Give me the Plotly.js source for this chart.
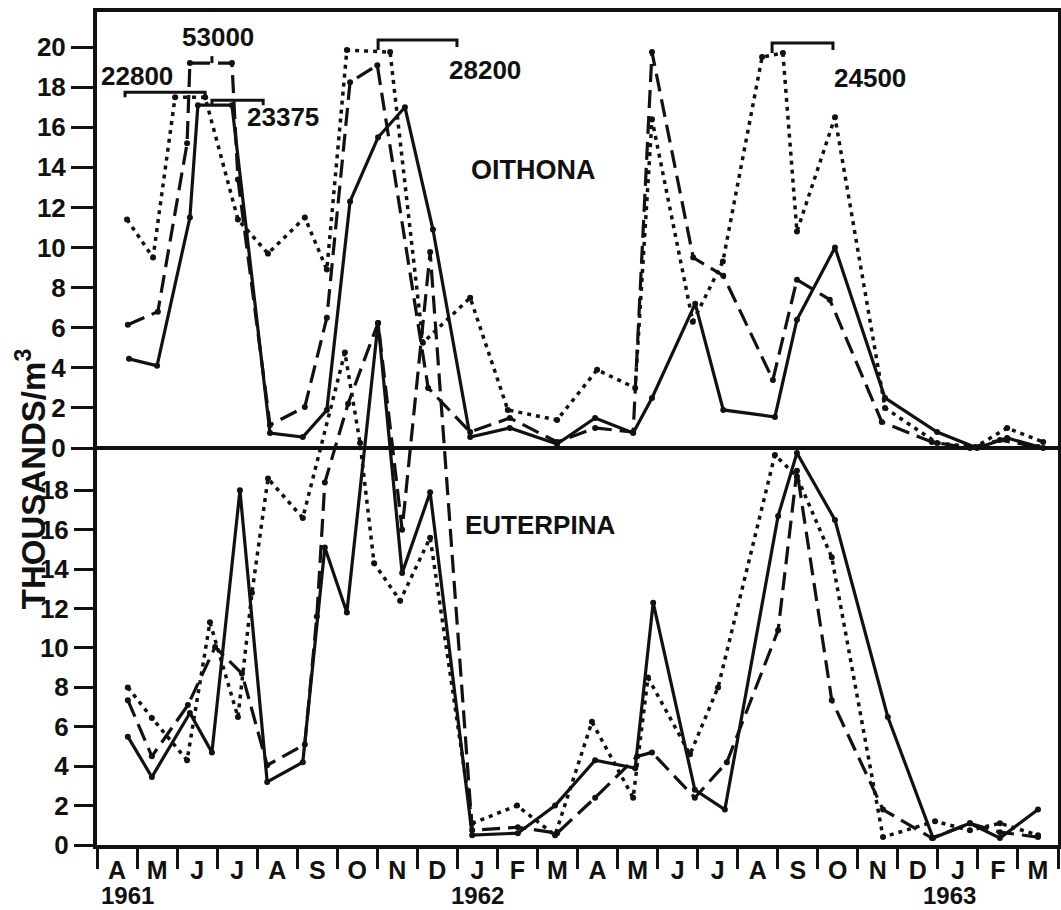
<!DOCTYPE html>
<html>
<head>
<meta charset="utf-8">
<script src="https://cdn.plot.ly/plotly-3.0.1.min.js"></script>
<style>html,body{margin:0;padding:0;background:#fff;}#chart{width:1061px;height:910px;}</style>
</head>
<body>
<div id="chart"></div>
<script>
// x = months elapsed since 1 April 1961
const monthLetters = ['A','M','J','J','A','S','O','N','D','J','F','M','A','M','J','J','A','S','O','N','D','J','F','M'];
const yearLabels = ['1961','1962','1963'];
const yearPositions = [0.75, 9.5, 21.3];

// OITHONA (upper panel), thousands / m3
const oithonaSolidX = [0.80,1.50,2.32,2.52,3.37,4.32,5.14,5.74,6.32,7.02,7.69,8.39,9.32,10.31,11.49,12.44,13.39,13.86,14.94,15.64,16.93,17.48,18.43,19.68,20.98,21.98,22.73,23.63];
const oithonaSolidY = [4.45,4.1,11.5,17.1,17.1,0.75,0.55,1.9,12.3,15.5,17.0,10.9,0.55,1.0,0.2,1.5,0.75,2.5,7.2,1.9,1.55,6.4,10.0,2.5,0.8,0.0,0.5,0.0];
const oithonaDashX = [0.77,1.52,2.25,2.32,3.37,3.52,4.32,5.19,5.74,6.32,7.00,8.27,9.32,10.31,11.49,12.44,13.39,13.86,14.89,15.64,16.88,17.48,18.30,19.60,20.85,21.80,22.55,23.50];
const oithonaDashY = [6.15,6.8,15.2,19.2,19.2,13.4,1.15,2.05,6.5,18.25,19.1,3.0,0.8,1.5,0.3,1.0,0.8,19.75,9.5,8.6,3.4,8.4,7.4,1.3,0.3,0.0,0.4,0.05];
const oithonaDotX = [0.75,1.40,1.95,2.70,3.52,4.27,5.19,5.74,6.24,7.32,8.14,9.32,10.26,11.49,12.49,13.44,13.86,14.88,15.63,16.61,17.13,17.48,18.43,19.68,20.98,21.93,22.73,23.63];
const oithonaDotY = [11.4,9.5,17.5,17.5,11.4,9.7,11.5,8.9,19.85,19.75,5.25,7.5,1.9,1.4,3.9,3.0,16.4,6.3,9.3,19.5,19.7,10.8,16.5,2.0,0.25,0.05,1.0,0.3];

// EUTERPINA (lower panel), thousands / m3
const euterpinaSolidX = [0.77,1.37,2.32,2.87,3.57,4.25,5.14,5.69,6.24,7.02,7.62,8.32,9.37,10.51,11.44,12.44,13.44,13.89,14.93,15.68,17.01,17.48,18.43,19.75,20.88,21.80,22.55,23.50];
const euterpinaSolidY = [5.5,3.45,6.7,4.7,18.0,3.2,4.2,15.1,11.8,26.5,13.8,17.9,0.5,0.6,2.0,4.3,3.9,12.3,2.8,1.8,16.7,19.9,16.5,6.5,0.35,1.1,0.35,1.8];
const euterpinaDashX = [0.77,1.37,2.27,2.95,3.62,4.25,5.19,5.49,5.69,6.27,7.02,7.62,8.32,9.37,10.51,11.49,12.44,13.49,13.86,14.93,15.73,17.01,17.48,18.35,19.63,20.85,21.80,22.55,23.50];
const euterpinaDashY = [7.35,4.5,7.1,10.05,8.7,4.05,5.1,11.6,18.4,22.4,26.5,16.0,30.1,0.75,0.9,0.6,2.4,4.5,4.7,2.4,4.2,10.9,19.0,7.35,1.8,0.35,1.1,0.65,0.4];
const euterpinaDotX = [0.77,1.37,2.25,2.82,3.52,3.87,4.27,5.14,6.19,6.57,6.92,7.57,8.32,9.37,10.49,11.44,12.36,13.39,13.76,14.81,15.51,16.93,17.48,18.35,19.63,20.93,21.80,22.55,23.50];
const euterpinaDotY = [8.0,6.45,4.3,11.3,6.5,12.8,18.6,16.6,25.0,20.4,14.3,12.4,15.6,1.1,2.0,0.5,6.25,2.4,8.5,4.6,8.0,19.8,18.7,14.6,0.4,1.2,0.75,1.1,0.5];

// off-scale peaks (true values) and their bracket connectors (upper-panel units)
const offScaleLabels = ['22800','53000','23375','28200','24500'];
const offScaleLabelX = [1.0, 3.02, 4.65, 9.69, 19.3];
const offScaleLabelY = [18.55, 20.5, 16.5, 18.85, 18.45];
const bracketX = [[0.70,0.70,2.70,2.70],[2.87,2.87],[2.87,2.87,4.15,4.15],[7.02,7.02,8.99,8.99],[16.86,16.86,18.38,18.38]];
const bracketY = [[17.5,17.75,17.75,17.5],[19.2,19.55],[17.1,17.35,17.35,17.1],[19.85,20.35,20.35,20.0],[19.7,20.2,20.2,19.85]];

const FONT = 'Liberation Sans, Arial, sans-serif';
const INK = '#111';

function series(x, y, dash, width, axis) {
  return {x: x, y: y, yaxis: axis, type: 'scatter', mode: 'lines+markers',
    line: {color: INK, width: width, dash: dash},
    marker: {color: INK, size: 6}, hoverinfo: 'skip', showlegend: false};
}

const traces = [
  series(oithonaSolidX, oithonaSolidY, 'solid', 3.2, 'y'),
  series(oithonaDashX, oithonaDashY, '18px,8px', 3.2, 'y'),
  series(oithonaDotX, oithonaDotY, '4px,5px', 3.5, 'y'),
  series(euterpinaSolidX, euterpinaSolidY, 'solid', 3.2, 'y2'),
  series(euterpinaDashX, euterpinaDashY, '18px,8px', 3.2, 'y2'),
  series(euterpinaDotX, euterpinaDotY, '4px,5px', 3.5, 'y2')
];
bracketX.forEach(function (bx, i) {
  traces.push({x: bx, y: bracketY[i], yaxis: 'y', type: 'scatter', mode: 'lines',
    line: {color: INK, width: 3}, hoverinfo: 'skip', showlegend: false});
});

const annotations = [];
offScaleLabels.forEach(function (t, i) {
  annotations.push({text: t, x: offScaleLabelX[i], y: offScaleLabelY[i], xref: 'x', yref: 'y',
    showarrow: false, font: {family: FONT, size: 26, color: INK, weight: 'bold'}});
});
annotations.push({text: 'OITHONA', x: 10.89, y: 13.87, xref: 'x', yref: 'y', showarrow: false,
  font: {family: FONT, size: 27, color: INK, weight: 'bold'}});
annotations.push({text: 'EUTERPINA', x: 11.06, y: 16.24, xref: 'x', yref: 'y2', showarrow: false,
  font: {family: FONT, size: 26, color: INK, weight: 'bold'}});
yearLabels.forEach(function (t, i) {
  annotations.push({text: t, x: yearPositions[i], y: -0.061, xref: 'x', yref: 'paper', showarrow: false,
    yanchor: 'middle', font: {family: FONT, size: 24, color: INK, weight: 'bold'}});
});
annotations.push({text: 'THOUSANDS/m<sup>3</sup>', x: -0.068, y: 0.44, xref: 'paper', yref: 'paper',
  showarrow: false, textangle: -90, xanchor: 'center', yanchor: 'middle',
  font: {family: FONT, size: 33, color: INK, weight: 'bold'}});

const tickCenters = monthLetters.map(function (_, i) { return i + 0.5; });
const upperTicks = [0,2,4,6,8,10,12,14,16,18,20];
const lowerTicks = [0,2,4,6,8,10,12,14,16,18];

const layout = {
  width: 1061, height: 910,
  margin: {l: 97, r: 3, t: 12, b: 65},
  paper_bgcolor: '#fff', plot_bgcolor: '#fff',
  showlegend: false,
  font: {family: FONT, color: INK},
  xaxis: {
    range: [0, 24], showgrid: false, zeroline: false,
    showline: true, linewidth: 4, linecolor: INK, mirror: true,
    tickmode: 'array', tickvals: tickCenters, ticktext: monthLetters, ticks: '',
    tickfont: {family: FONT, size: 25, color: INK, weight: 'bold'},
    minor: {tickmode: 'linear', tick0: 0, dtick: 1, ticks: 'outside', ticklen: 20, tickwidth: 3, tickcolor: INK, showgrid: false}
  },
  yaxis: {
    range: [-19.80, 21.75], showgrid: false,
    zeroline: true, zerolinewidth: 3.5, zerolinecolor: INK,
    showline: true, linewidth: 4, linecolor: INK, mirror: true,
    tickmode: 'array', tickvals: upperTicks, ticktext: upperTicks.map(String),
    ticks: 'outside', ticklen: 22, tickwidth: 3, tickcolor: INK,
    tickfont: {family: FONT, size: 26, color: INK, weight: 'bold'}
  },
  yaxis2: {
    range: [0, 42.28], overlaying: 'y', side: 'left', showgrid: false, zeroline: false,
    showline: false,
    tickmode: 'array', tickvals: lowerTicks, ticktext: lowerTicks.map(String),
    ticks: 'outside', ticklen: 22, tickwidth: 3, tickcolor: INK,
    tickfont: {family: FONT, size: 26, color: INK, weight: 'bold'}
  },
  annotations: annotations
};

Plotly.newPlot('chart', traces, layout, {displayModeBar: false, staticPlot: true});
</script>
</body>
</html>
